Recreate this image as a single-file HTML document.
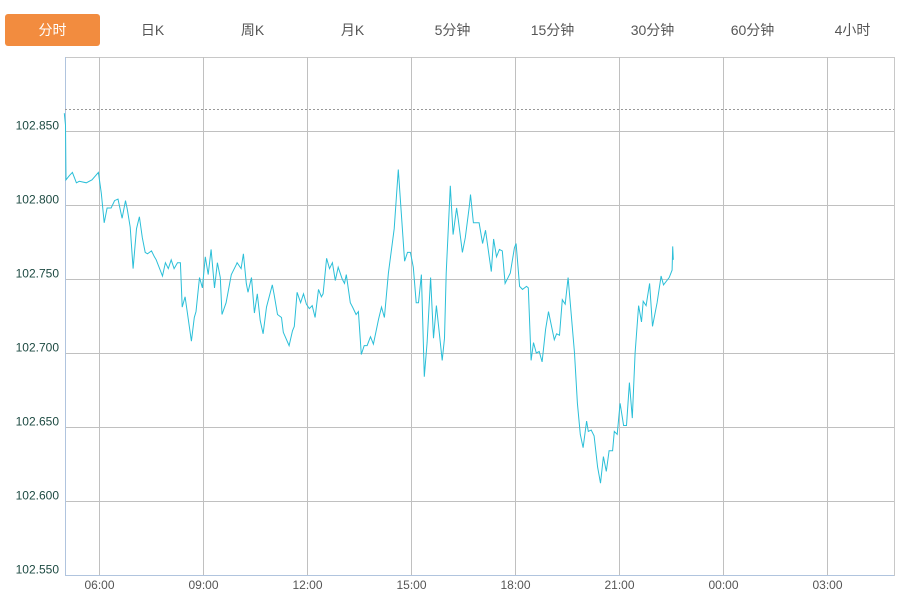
<!DOCTYPE html>
<html><head><meta charset="utf-8"><style>
body{margin:0;background:#fff;width:916px;height:603px;overflow:hidden;font-family:"Liberation Sans","Noto Sans CJK SC",sans-serif}
.tab{position:absolute;top:14px;height:32px;width:95px;line-height:32px;text-align:center;font-size:14px;color:#555;cursor:pointer}
.tab.active{background:#f28c3f;color:#fff;border-radius:3px}
</style></head><body>
<div>
<div class="tab active" style="left:5px">分时</div>
<div class="tab" style="left:105px">日K</div>
<div class="tab" style="left:205px">周K</div>
<div class="tab" style="left:305px">月K</div>
<div class="tab" style="left:405px">5分钟</div>
<div class="tab" style="left:505px">15分钟</div>
<div class="tab" style="left:605px">30分钟</div>
<div class="tab" style="left:705px">60分钟</div>
<div class="tab" style="left:805px">4小时</div>
</div>
<svg id="chart" width="916" height="603" style="position:absolute;left:0;top:0" xmlns="http://www.w3.org/2000/svg"></svg>
<script>
const yTicks=[102.850,102.800,102.750,102.700,102.650,102.600,102.550];
const xTickLabels=["06:00","09:00","12:00","15:00","18:00","21:00","00:00","03:00"];
const xTickMinutes=[60,240,420,600,780,960,1140,1320];
const refPrice=102.865;
const times=[2,3,9,14,21,26,38,48,59,64,69,74,81,87,93,100,106,109,114,119,125,130,135,140,144,151,156,159,170,175,180,185,190,196,201,204,209,220,225,228,234,239,244,249,254,260,265,270,273,280,289,298,299,306,310,315,318,324,329,334,339,344,350,360,363,369,376,379,389,395,398,403,409,414,419,424,429,434,440,445,448,454,459,464,469,474,481,485,488,495,499,505,509,514,519,524,530,535,544,549,554,561,571,578,589,594,599,604,609,613,618,623,628,634,639,644,654,658,661,668,673,679,682,689,694,701,703,708,718,724,729,739,743,748,753,758,763,772,779,782,788,793,800,803,808,812,817,822,827,833,838,848,852,857,862,867,872,883,888,893,898,904,907,912,917,923,928,933,938,943,949,952,957,962,968,973,978,983,988,994,999,1002,1007,1013,1018,1026,1033,1037,1047,1052,1053,1054];
const prices=[102.854,102.817,102.820,102.822,102.815,102.816,102.815,102.817,102.822,102.808,102.788,102.798,102.798,102.803,102.804,102.791,102.803,102.797,102.785,102.757,102.784,102.792,102.778,102.768,102.767,102.769,102.765,102.763,102.752,102.761,102.757,102.763,102.757,102.761,102.761,102.731,102.738,102.708,102.724,102.728,102.751,102.744,102.765,102.753,102.770,102.744,102.761,102.751,102.726,102.734,102.753,102.760,102.761,102.757,102.767,102.747,102.741,102.751,102.727,102.740,102.722,102.713,102.731,102.746,102.740,102.726,102.724,102.714,102.705,102.715,102.718,102.741,102.734,102.740,102.733,102.730,102.732,102.724,102.743,102.738,102.740,102.764,102.757,102.761,102.749,102.758,102.750,102.747,102.753,102.734,102.731,102.726,102.728,102.699,102.705,102.705,102.711,102.706,102.723,102.731,102.724,102.754,102.784,102.824,102.762,102.768,102.768,102.758,102.734,102.734,102.753,102.684,102.707,102.751,102.710,102.732,102.695,102.710,102.754,102.813,102.780,102.798,102.790,102.768,102.778,102.799,102.807,102.788,102.788,102.774,102.783,102.755,102.777,102.765,102.770,102.769,102.747,102.754,102.771,102.774,102.745,102.743,102.745,102.744,102.695,102.707,102.700,102.701,102.694,102.716,102.728,102.709,102.713,102.712,102.736,102.733,102.751,102.700,102.666,102.645,102.636,102.654,102.647,102.648,102.644,102.623,102.612,102.630,102.620,102.634,102.634,102.647,102.645,102.666,102.651,102.651,102.680,102.656,102.700,102.732,102.721,102.735,102.732,102.747,102.718,102.734,102.752,102.746,102.751,102.756,102.772,102.763];

const svg=document.getElementById('chart');
const NS='http://www.w3.org/2000/svg';
const L=65,R=894,T=57,B=575;
const xS=m=>64.3+m*104/180;
const yS=p=>131+(102.85-p)*1480;
function mk(tag,attrs){const e=document.createElementNS(NS,tag);for(const k in attrs)e.setAttribute(k,attrs[k]);svg.appendChild(e);return e;}

const frame=mk('rect',{x:L+0.5,y:T+0.5,width:R-L,height:B-T,fill:'none',stroke:'#c8c8c8'});



yTicks.forEach(v=>{
  const y=Math.round(yS(v))+0.5;
  const g=mk('line',{x1:L,x2:R,y1:y,y2:y,stroke:'#c0c0c0'});
  
  
  const t=mk('text',{x:59,y:y-2,'text-anchor':'end','font-size':'12',fill:'#1d4a42','font-family':'Liberation Sans, sans-serif'});
  t.textContent=v.toFixed(3);
  
  
});
xTickMinutes.forEach((m,i)=>{
  const x=Math.round(xS(m))+0.5;
  const g=mk('line',{x1:x,x2:x,y1:T,y2:B,stroke:'#c0c0c0'});
  
  
  const t=mk('text',{x:x,y:589,'text-anchor':'middle','font-size':'12',fill:'#555','font-family':'Liberation Sans, sans-serif'});
  t.textContent=xTickLabels[i];
  
  
});
const ax=mk('line',{x1:L,x2:R,y1:B+0.5,y2:B+0.5,stroke:'#b0c4de'});


const ay=mk('line',{x1:L+0.5,x2:L+0.5,y1:T,y2:B,stroke:'#b0c4de'});



const ry=Math.round(yS(refPrice))+0.5;
const ref=mk('line',{x1:L,x2:R,y1:ry,y2:ry,stroke:'#999','stroke-dasharray':'2,2'});



const pts=times.map((m,i)=>xS(m).toFixed(1)+','+yS(prices[i]).toFixed(1)).join(' ');
const line=mk('polyline',{points:xS(0).toFixed(1)+','+yS(102.862).toFixed(1)+' '+pts,fill:'none',stroke:'#2bbfd8','stroke-width':'1'});


</script>
</body></html>
